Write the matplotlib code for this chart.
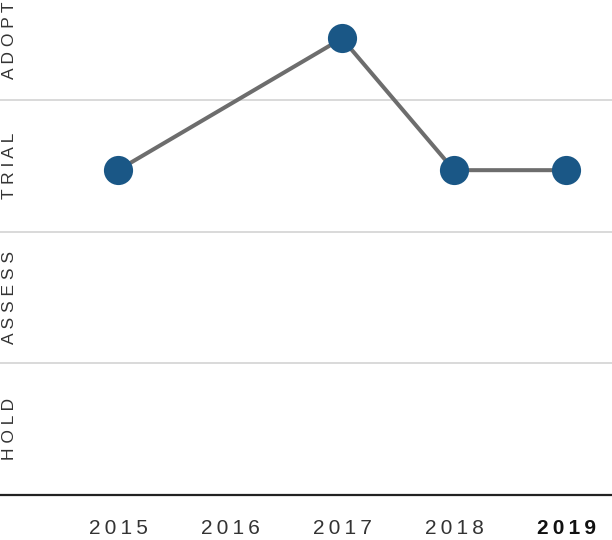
import matplotlib
matplotlib.use('Agg')
import matplotlib.pyplot as plt
from matplotlib.transforms import ScaledTranslation

# ring levels (bottom to top) and the blip's history
rings = ['HOLD', 'ASSESS', 'TRIAL', 'ADOPT']
years = [2015, 2016, 2017, 2018, 2019]
point_years = [2015, 2017, 2018, 2019]
point_rings = ['TRIAL', 'ADOPT', 'TRIAL', 'TRIAL']

plt.rcParams['font.family'] = ['Liberation Sans', 'DejaVu Sans']

fig = plt.figure(figsize=(6.12, 5.40), dpi=100)
ax = fig.add_axes([0, 45 / 540, 1, 495 / 540])

# points sit a few pixels below the band centres in the reference
shift = ax.transData + ScaledTranslation(0, -4.5 / 100, fig.dpi_scale_trans)
ring_idx = [rings.index(r) for r in point_rings]
ax.plot(point_years, ring_idx, color='#6d6d6d', lw=2.9, zorder=2,
        solid_capstyle='butt', transform=shift)
ax.plot(point_years, ring_idx, 'o', color='#1a5786', ms=21, mec='none',
        zorder=3, transform=shift)

# band separators
for i in range(len(rings) - 1):
    ax.axhline(i + 0.5, color='#d9d9d9', lw=1.4, zorder=1)
ax.axhline(-0.5, color='#222222', lw=1.6, zorder=1, clip_on=False)

# ring labels, vertical, letter spaced; the top one is pushed down to stay visible
for i, r in enumerate(rings):
    dy = -6 if i == len(rings) - 1 else 0
    tr = ax.get_yaxis_transform() + ScaledTranslation(0, dy / 100, fig.dpi_scale_trans)
    ax.text(10 / 612, i, ' '.join(r), transform=tr,
            rotation=90, ha='center', va='center', fontsize=12.5,
            color='#333333')

# year labels
down = ax.transData + ScaledTranslation(0, -24 / 100, fig.dpi_scale_trans)
for y in years:
    bold = y == years[-1]
    ax.text(y, -0.5, '\u2009'.join(str(y)), transform=down,
            ha='center', va='top', fontsize=15,
            color='#111111' if bold else '#333333',
            fontweight='bold' if bold else 'normal')

# y range so that the top band is partly cut, as in the reference
ax.set_xlim(2015 - 118 / 112, 2019 + 46 / 112)
ax.set_ylim(-0.5, 2.5 + 100 / 132)
ax.axis('off')

fig.savefig('out.png', dpi=100)
